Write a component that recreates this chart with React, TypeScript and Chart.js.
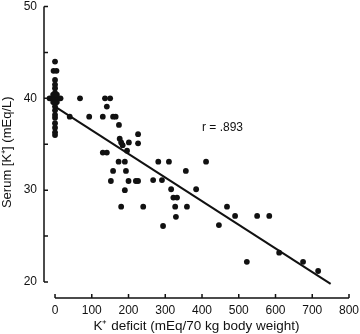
import { useEffect, useRef } from "react";
import { Chart, registerables } from "chart.js";

Chart.register(...registerables);

// K+ deficit (mEq/70 kg body weight)
const deficitX = [
  0, -4, 4, 0, 0, 0, 0, -15, -8, 0, 8, 15, -5, 5, -5, 5, 0, 0, 0, 0, 0, 0, 0, 0, 0,
  68, 136, 150, 141, 40, 93, 130, 158, 165, 174, 176, 180, 184, 201, 226, 226, 196,
  130, 141, 173, 190, 281, 310, 411, 158, 193, 356, 152, 200, 220, 226, 267, 291,
  190, 316, 384, 322, 332, 180, 240, 327, 359, 468, 329, 490, 550, 583, 294, 446,
  610, 522, 675, 716,
];
// Serum [K+] (mEq/L)
const serumY = [
  44, 43, 43, 42, 41.5, 41.1, 40.6, 40, 40, 40, 40, 40, 40.4, 40.4, 39.6, 39.6, 39.5, 39.1, 38.7, 38.2, 37.9, 37.3, 36.8, 36.3, 36,
  40, 40, 40, 39.1, 38, 38, 38, 38, 38, 37.1, 35.6, 35.2, 34.9, 35.2, 36.1, 35.1, 34.3,
  34.1, 34.1, 33.1, 33.1, 33.1, 33.1, 33.1, 32.1, 32.1, 32.1, 31, 31, 31, 31, 31.1, 31.1,
  30, 30.1, 30.1, 29.2, 29.2, 28.2, 28.2, 28.2, 28.2, 28.2, 27.1, 27.2, 27.2, 27.2, 26.1, 26.2,
  23.2, 22.2, 22.2, 21.2,
];

// regression line end points
const fitX = [0, 750];
const fitY = [39.1, 19.8];

const xTickValues = [0, 100, 200, 300, 400, 500, 600, 700, 800];
const yTickValues = [20, 30, 40, 50];
const yMinorTicks = [25, 35, 45];

const rLabel = "r = .893";
const rLabelX = 400;
const rLabelY = 36.8;

const xTitle = "K\u207A deficit (mEq/70 kg body weight)";
const yTitle = "Serum [K\u207A] (mEq/L)";

const FONT = "'Liberation Sans', Arial, Helvetica, sans-serif";
const INK = "#111";

const axesPlugin = {
  id: "offsetAxes",
  afterDraw(chart: any) {
    const { ctx, scales, chartArea } = chart;
    const xs = scales.x;
    const ys = scales.y;
    ctx.save();
    ctx.strokeStyle = INK;
    ctx.lineWidth = 1.5;
    // y axis
    const ax = chartArea.left;
    ctx.beginPath();
    ctx.moveTo(ax, ys.getPixelForValue(yTickValues[0]));
    ctx.lineTo(ax, ys.getPixelForValue(yTickValues[yTickValues.length - 1]));
    for (const v of [...yTickValues, ...yMinorTicks]) {
      const py = ys.getPixelForValue(v);
      ctx.moveTo(ax, py);
      ctx.lineTo(ax + 4, py);
    }
    ctx.stroke();
    // x axis
    const ay = chartArea.bottom;
    ctx.beginPath();
    ctx.moveTo(xs.getPixelForValue(xTickValues[0]), ay);
    ctx.lineTo(xs.getPixelForValue(xTickValues[xTickValues.length - 1]), ay);
    for (const v of xTickValues) {
      const px = xs.getPixelForValue(v);
      ctx.moveTo(px, ay);
      ctx.lineTo(px, ay - 4);
    }
    ctx.stroke();
    // r label
    ctx.fillStyle = INK;
    ctx.font = `12px ${FONT}`;
    ctx.textAlign = "left";
    ctx.textBaseline = "middle";
    ctx.fillText(rLabel, xs.getPixelForValue(rLabelX), ys.getPixelForValue(rLabelY));
    ctx.restore();
  },
};

export default function App() {
  const canvasRef = useRef<HTMLCanvasElement | null>(null);

  useEffect(() => {
    if (!canvasRef.current) return;
    const points = deficitX.map((x, i) => ({ x, y: serumY[i] }));
    const fit = fitX.map((x, i) => ({ x, y: fitY[i] }));
    const chart = new Chart(canvasRef.current, {
      type: "scatter",
      data: {
        datasets: [
          {
            data: points,
            pointRadius: 2.9,
            pointBackgroundColor: INK,
            pointBorderWidth: 0,
            showLine: false,
          },
          {
            data: fit,
            showLine: true,
            borderColor: INK,
            borderWidth: 2,
            pointRadius: 0,
          },
        ],
      },
      options: {
        responsive: false,
        animation: false,
        layout: { padding: { top: 0, right: 0, bottom: 0, left: 0 } },
        plugins: { legend: { display: false }, tooltip: { enabled: false } },
        scales: {
          x: {
            type: "linear",
            min: -30,
            max: 800,
            border: { display: false },
            grid: { display: false, drawTicks: false },
            ticks: {
              color: INK,
              font: { family: FONT, size: 12 },
              padding: 5,
              maxRotation: 0,
              autoSkip: false,
            },
            afterBuildTicks: (s: any) => {
              s.ticks = xTickValues.map((v) => ({ value: v }));
            },
            afterFit: (s: any) => {
              s.height = 36;
              s.paddingRight = 11;
              s.paddingLeft = 0;
            },
            title: {
              display: true,
              text: xTitle,
              color: INK,
              font: { family: FONT, size: 13.5 },
              padding: 0,
            },
          },
          y: {
            type: "linear",
            min: 18.26,
            max: 50,
            border: { display: false },
            grid: { display: false, drawTicks: false },
            ticks: {
              color: INK,
              font: { family: FONT, size: 12 },
              padding: 7,
              autoSkip: false,
            },
            afterBuildTicks: (s: any) => {
              s.ticks = yTickValues.map((v) => ({ value: v }));
            },
            afterFit: (s: any) => {
              s.width = 44;
              s.paddingTop = 6.5;
              s.paddingBottom = 0;
            },
            title: {
              display: true,
              text: yTitle,
              color: INK,
              font: { family: FONT, size: 13 },
              padding: 0,
            },
          },
        },
      },
      plugins: [axesPlugin],
    });
    return () => chart.destroy();
  }, []);

  return (
    <div style={{ position: "absolute", left: 0, top: 0, width: 360, height: 334, background: "#fff" }}>
      <canvas ref={canvasRef} width={360} height={334} />
    </div>
  );
}
